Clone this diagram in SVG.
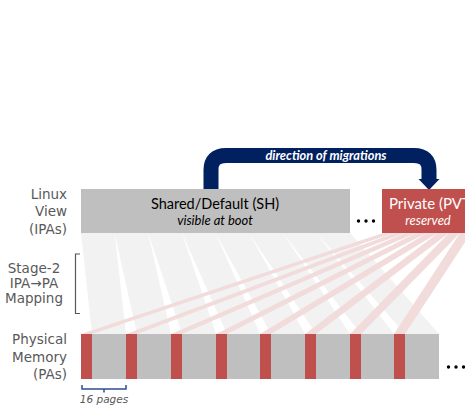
<svg xmlns="http://www.w3.org/2000/svg" width="465" height="410" viewBox="0 0 465 410">
<style>
.lbl{font-family:"DejaVu Sans","Liberation Sans",sans-serif;font-size:13.5px;fill:#595959}
.cal{font-family:Lato,"Open Sans",sans-serif}
.gbox{fill:#BFBFBF}
.red{fill:#C0504D}
.fan{fill:#F2F2F2}
.gap{fill:#FFFFFF}
.pink{fill:#F2DCDB}
.dot{fill:#000}
</style>
<rect width="465" height="410" fill="#fff"/>
<g id="mapping">
<polygon class="fan" points="81,233 350,233 439,334 81,334"/>
<polygon class="gap" points="81,233 81,334 92,334"/>
<polygon class="gap" points="114.6,233 126,334 137,334"/>
<polygon class="gap" points="148.2,233 171,334 182,334"/>
<polygon class="gap" points="181.9,233 216,334 227,334"/>
<polygon class="gap" points="215.5,233 260,334 271,334"/>
<polygon class="gap" points="249.1,233 305,334 316,334"/>
<polygon class="gap" points="282.8,233 350,334 361,334"/>
<polygon class="gap" points="316.4,233 394,334 405,334"/>
<polygon class="pink" points="383,233 394,233 92,334 81,334"/>
<polygon class="pink" points="394,233 405,233 137,334 126,334"/>
<polygon class="pink" points="405,233 416,233 182,334 171,334"/>
<polygon class="pink" points="416,233 427,233 227,334 216,334"/>
<polygon class="pink" points="427,233 438,233 271,334 260,334"/>
<polygon class="pink" points="438,233 449,233 316,334 305,334"/>
<polygon class="pink" points="449,233 460,233 361,334 350,334"/>
<polygon class="pink" points="460,233 471,233 405,334 394,334"/>
</g>
<g id="connectors">
<path d="M211,189 V170 Q211,155.5 226,155.5 H414 Q429,155.5 429,170 V180" fill="none" stroke="#002060" stroke-width="15"/>
<polygon points="418.5,179 439.5,179 429,190" fill="#002060"/>
<text x="326" y="159.5" text-anchor="middle" class="cal" font-size="12.8" font-style="italic" font-weight="bold" fill="#fff">direction of migrations</text>
</g>
<g id="shared">
<rect class="gbox" x="81" y="189" width="269" height="44"/>
<text x="215" y="209" text-anchor="middle" class="cal" font-size="14.5" fill="#000">Shared/Default (SH)</text>
<text x="215" y="225" text-anchor="middle" class="cal" font-size="13" font-style="italic" fill="#000">visible at boot</text>
</g>
<g id="dots-top">
<circle class="dot" cx="358.5" cy="221" r="1.7"/>
<circle class="dot" cx="366" cy="221" r="1.7"/>
<circle class="dot" cx="373.5" cy="221" r="1.7"/>
</g>
<g id="private">
<rect class="red" x="382" y="189" width="100" height="44"/>
<text x="389" y="209" class="cal" font-size="15" fill="#fff">Private (PVT)</text>
<text x="428" y="225" text-anchor="middle" class="cal" font-size="13" font-style="italic" fill="#fff">reserved</text>
</g>
<g id="physical">
<rect class="gbox" x="81" y="334" width="358" height="45"/>
<rect class="red" x="81" y="334" width="11" height="45"/>
<rect class="red" x="126" y="334" width="11" height="45"/>
<rect class="red" x="171" y="334" width="11" height="45"/>
<rect class="red" x="216" y="334" width="11" height="45"/>
<rect class="red" x="260" y="334" width="11" height="45"/>
<rect class="red" x="305" y="334" width="11" height="45"/>
<rect class="red" x="350" y="334" width="11" height="45"/>
<rect class="red" x="394" y="334" width="11" height="45"/>
</g>
<g id="dots-bottom">
<circle class="dot" cx="448.5" cy="367" r="1.7"/>
<circle class="dot" cx="456" cy="367" r="1.7"/>
<circle class="dot" cx="463.5" cy="367" r="1.7"/>
</g>
<g id="label-linux">
<text class="lbl" text-anchor="end" x="67" y="199">Linux</text>
<text class="lbl" text-anchor="end" x="67" y="216">View</text>
<text class="lbl" text-anchor="end" x="67" y="234">(IPAs)</text>
</g>
<g id="label-stage2">
<text class="lbl" text-anchor="middle" x="34" y="273">Stage-2</text>
<text class="lbl" text-anchor="middle" x="34" y="288">IPA→PA</text>
<text class="lbl" text-anchor="middle" x="34" y="303">Mapping</text>
<path d="M80,254 H75.5 V313.5 H80" fill="none" stroke="#595959" stroke-width="1.2"/>
</g>
<g id="label-physical">
<text class="lbl" text-anchor="end" x="67" y="344">Physical</text>
<text class="lbl" text-anchor="end" x="67" y="362">Memory</text>
<text class="lbl" text-anchor="end" x="67" y="379">(PAs)</text>
</g>
<g id="brace">
<path d="M82,385 V389 H126 V385 M104,389 V392.5" fill="none" stroke="#2F4F8F" stroke-width="1.5"/>
<text x="104" y="403" text-anchor="middle" font-family="'DejaVu Sans','Liberation Sans',sans-serif" font-size="10.5" font-style="italic" fill="#595959">16 pages</text>
</g>
</svg>
